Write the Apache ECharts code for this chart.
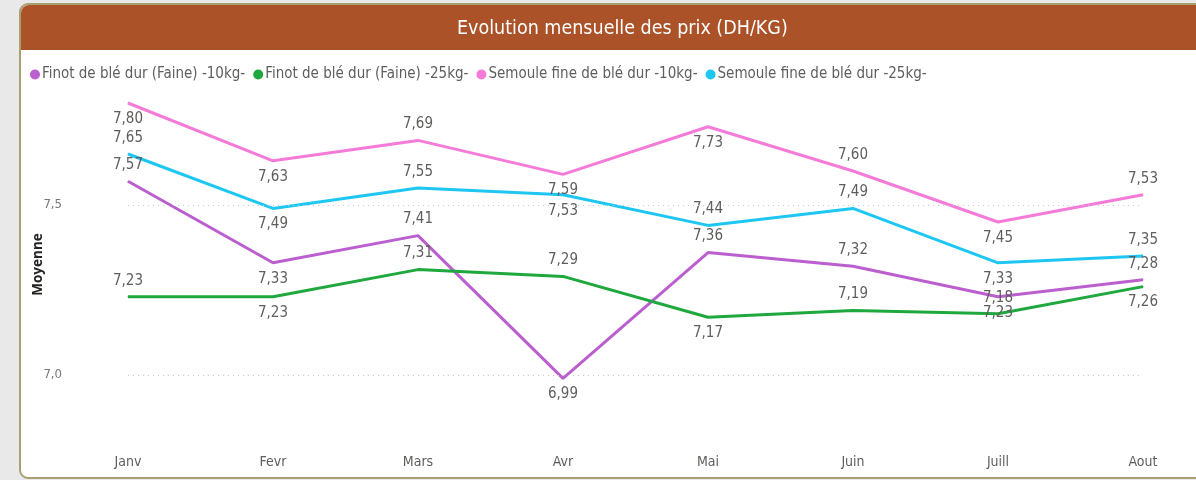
<!DOCTYPE html>
<html lang="fr">
<head>
    <meta charset="utf-8">
    <title>Evolution mensuelle des prix</title>
    <script src="https://cdn.jsdelivr.net/npm/echarts@6/dist/echarts.min.js"></script>
    <style>
        html, body { margin: 0; padding: 0; background: #e9e9e9; overflow: hidden; }
        #chart { width: 1196px; height: 480px; }
    </style>
</head>
<body>
<div id="chart"></div>
<script type="text/javascript">
    // données
    var mois = ['Janv', 'Fevr', 'Mars', 'Avr', 'Mai', 'Juin', 'Juill', 'Aout'];
    var finot10 = [7.57, 7.33, 7.41, 6.99, 7.36, 7.32, 7.23, 7.28];
    var finot25 = [7.23, 7.23, 7.31, 7.29, 7.17, 7.19, 7.18, 7.26];
    var semoule10 = [7.80, 7.63, 7.69, 7.59, 7.73, 7.60, 7.45, 7.53];
    var semoule25 = [7.65, 7.49, 7.55, 7.53, 7.44, 7.49, 7.33, 7.35];
    var yTicks = [7.0, 7.5];

    // placement des étiquettes (style, pas des données)
    var placeFinot10 = ['top', 'bottom', 'top', 'bottom', 'top', 'top', 'bottom', 'top'];
    var placeFinot25 = ['top', 'bottom', 'top', 'top', 'bottom', 'top', 'top', 'bottom'];
    var placeSem10 = ['bottom', 'bottom', 'top', 'bottom', 'bottom', 'top', 'bottom', 'top'];
    var placeSem25 = ['top', 'bottom', 'top', 'bottom', 'top', 'top', 'bottom', 'top'];

    var font = '"Liberation Sans Narrow", "DejaVu Sans Condensed", "Open Sans", sans-serif';

    function fmt(v) {
        return v.toFixed(2).replace('.', ',');
    }

    function makeSeries(name, values, places, color) {
        return {
            name: name,
            type: 'line',
            data: values.map(function (v, i) {
                return { value: v, label: { position: places[i] } };
            }),
            symbol: 'circle',
            symbolSize: 1,
            showSymbol: true,
            lineStyle: { width: 3, color: color },
            itemStyle: { color: color },
            label: {
                show: true,
                distance: 8,
                color: '#605e5c',
                fontFamily: font,
                fontSize: 15,
                formatter: function (p) { return fmt(p.value); }
            }
        };
    }

    var series = [
        makeSeries('Finot de blé dur (Faine) -10kg-', finot10, placeFinot10, '#bb5fcf'),
        makeSeries('Finot de blé dur (Faine) -25kg-', finot25, placeFinot25, '#1fa83d'),
        makeSeries('Semoule fine de blé dur -10kg-', semoule10, placeSem10, '#f47bd8'),
        makeSeries('Semoule fine de blé dur -25kg-', semoule25, placeSem25, '#1ec6f2')
    ];
    // lignes de grille pointillées aux seules graduations affichées
    series[0].markLine = {
        silent: true,
        symbol: 'none',
        label: { show: false },
        lineStyle: { color: '#c8c8c8', type: [1, 4], width: 1 },
        data: yTicks.map(function (t) { return { yAxis: t }; })
    };

    var chart = echarts.init(document.getElementById('chart'));
    chart.setOption({
        animation: false,
        graphic: [
            {
                type: 'rect', z: -10,
                shape: { x: 20, y: 4, width: 1200, height: 474, r: 8 },
                style: { fill: '#ffffff', stroke: '#a8a070', lineWidth: 2 }
            },
            {
                type: 'rect', z: -9,
                shape: { x: 21, y: 5, width: 1200, height: 45, r: [8, 0, 0, 0] },
                style: { fill: '#ac5229' }
            }
        ],
        title: {
            text: 'Evolution mensuelle des prix (DH/KG)',
            left: 452,
            top: 14,
            textStyle: { color: '#ffffff', fontFamily: font, fontSize: 19.5, fontWeight: 'normal' }
        },
        legend: {
            left: 25,
            top: 62,
            icon: 'circle',
            itemWidth: 10,
            itemHeight: 10,
            itemGap: 8,
            textStyle: { color: '#605e5c', fontFamily: font, fontSize: 15, padding: [0, 0, 0, -3] }
        },
        grid: { left: 128, right: 53, top: 86, bottom: 37 },
        xAxis: {
            type: 'category',
            data: mois,
            boundaryGap: false,
            axisLine: { show: false },
            axisTick: { show: false },
            axisLabel: { color: '#605e5c', fontFamily: font, fontSize: 14, margin: 12 }
        },
        yAxis: {
            type: 'value',
            min: 6.8,
            max: 7.85,
            interval: 0.1,
            name: 'Moyenne',
            nameLocation: 'middle',
            nameGap: 83,
            nameMoveOverlap: false,
            nameTextStyle: { color: '#252423', fontFamily: '"Open Sans", sans-serif', fontSize: 13.5, fontWeight: 'bold' },
            splitLine: { show: false },
            axisLine: { show: false },
            axisTick: { show: false },
            axisLabel: {
                color: '#777777',
                fontFamily: font,
                fontSize: 13,
                margin: 66,
                showMinLabel: false,
                showMaxLabel: false,
                formatter: function (v) {
                    for (var i = 0; i < yTicks.length; i++) {
                        if (Math.abs(v - yTicks[i]) < 1e-6) return yTicks[i].toFixed(1).replace('.', ',');
                    }
                    return '';
                }
            }
        },
        series: series
    });
</script>
</body>
</html>
